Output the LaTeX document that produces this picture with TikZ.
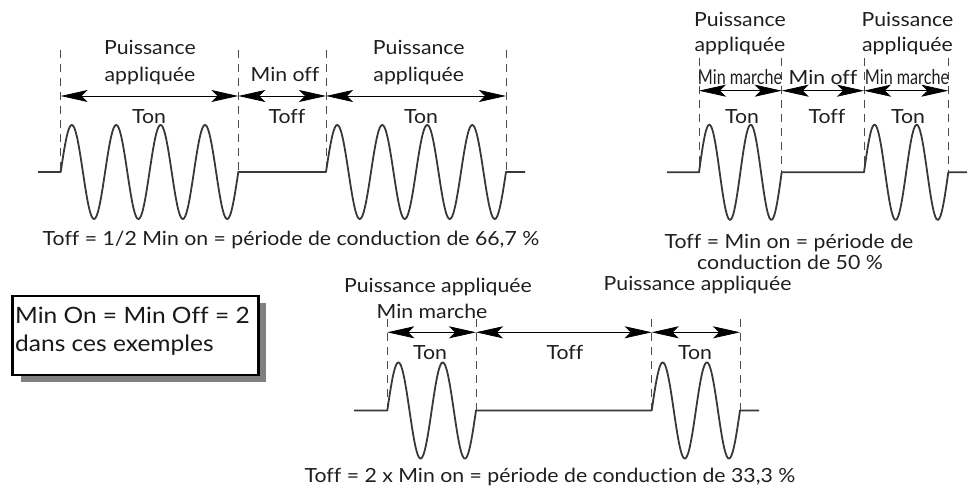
\documentclass[tikz,border=0pt]{standalone}
\usepackage{fontspec}
\usepackage{graphicx}
\setmainfont{Lato}[Ligatures=NoCommon, FakeStretch=1.09]
\usetikzlibrary{arrows.meta,shadows}
\begin{document}
\begin{tikzpicture}[x=1pt,y=-1pt,
  wave/.style={line width=1.8pt, color=black!78, line join=round},
  guide/.style={line width=0.9pt, color=black!70, dash pattern=on 8pt off 6pt},
  dim/.style={line width=0.8pt, {Stealth[length=27pt,width=12pt,inset=6pt]}-{Stealth[length=27pt,width=12pt,inset=6pt]}},
  lbl/.style={font=\fontsize{19.5}{23}\selectfont, inner sep=0pt, anchor=base, text=black!88},
  boxtxt/.style={font=\fontsize{22.5}{26}\selectfont, inner sep=0pt, anchor=base west, text=black!90},
  notebox/.style={draw=black, line width=2.6pt, fill=white, inner sep=0pt, anchor=north west,
    drop shadow={shadow xshift=8pt, shadow yshift=-7pt, fill=black!50, opacity=1}}
]
\useasboundingbox (0,0) rectangle (970,497);

% ---------------- top-left diagram ----------------
\foreach \n/\x in {1/60.7,2/238.3,3/326,4/506}{
  \coordinate (tlt\n) at (\x,50);
  \coordinate (tlb\n) at (\x,172);
  \coordinate (tla\n) at (\x,96);
  \draw[guide] (tlt\n) -- (tlb\n);
}
\draw[wave] (38,172) -- (tlb1) -- plot[domain=0:1440,samples=240] ({60.7+\x/360*44.4},{172-47*sin(\x)})
  -- (tlb2) -- (tlb3) -- plot[domain=0:1440,samples=240] ({326+\x/360*45},{172-47*sin(\x)})
  -- (tlb4) -- (525,172);
\draw[dim] (tla1) -- (tla2);
\draw[dim] (tla2) -- (tla3);
\draw[dim] (tla3) -- (tla4);
\node[lbl] (tlp1) at (150,55) {Puissance};
\node[lbl] (tlq1) at (150,81.7) {appliquée};
\node[lbl] (tlo1) at (149,123.3) {Ton};
\node[lbl] (tlm) at (285,81.7) {Min off};
\node[lbl] (tlf) at (287,123.3) {Toff};
\node[lbl] (tlp2) at (418.8,55) {Puissance};
\node[lbl] (tlq2) at (418.8,81.7) {appliquée};
\node[lbl] (tlo2) at (421,123.3) {Ton};
\node[lbl] (tlcap) at (291,246) {Toff = 1/2 Min on = période de conduction de 66,7 \%};

% ---------------- top-right diagram ----------------
\foreach \n/\x in {1/699,2/781.7,3/864,4/948.3}{
  \coordinate (trt\n) at (\x,58);
  \coordinate (trb\n) at (\x,172.3);
  \coordinate (tra\n) at (\x,90.7);
  \draw[guide] (trt\n) -- (trb\n);
}
\draw[wave] (667,172.3) -- (trb1) -- plot[domain=0:720,samples=160] ({699+\x/360*41.35},{172.3-47.5*sin(\x)})
  -- (trb2) -- (trb3) -- plot[domain=0:720,samples=160] ({864+\x/360*42.15},{172.3-47.5*sin(\x)})
  -- (trb4) -- (967,172.3);
\draw[dim] (tra1) -- (tra2);
\draw[dim] (tra2) -- (tra3);
\draw[dim] (tra3) -- (tra4);
\node[lbl] (trp1) at (740,26.7) {Puissance};
\node[lbl] (trq1) at (740,51.7) {appliquée};
\node[lbl] (trm1) at (740,85) {\scalebox{0.76}[1.05]{Min marche}};
\node[lbl] (tro1) at (742,123.3) {Ton};
\node[lbl] (trm) at (823,85) {Min off};
\node[lbl] (trf) at (827,123.3) {Toff};
\node[lbl] (trp2) at (907.5,26.7) {Puissance};
\node[lbl] (trq2) at (907.5,51.7) {appliquée};
\node[lbl] (trm2) at (907,85) {\scalebox{0.76}[1.05]{Min marche}};
\node[lbl] (tro2) at (908,123.3) {Ton};
\node[lbl] (trcap1) at (789,248.3) {Toff = Min on = période de};
\node[lbl] (trcap2) at (790,270) {conduction de 50 \%};

% ---------------- bottom diagram ----------------
\foreach \n/\x in {1/387.3,2/476,3/651.7,4/740}{
  \coordinate (bt\n) at (\x,319);
  \coordinate (bb\n) at (\x,410.5);
  \coordinate (ba\n) at (\x,332.3);
  \draw[guide] (bt\n) -- (bb\n);
}
\draw[wave] (354,410.5) -- (bb1) -- plot[domain=0:720,samples=160] ({387.3+\x/360*44.35},{410.5-48*sin(\x)})
  -- (bb2) -- (bb3) -- plot[domain=0:720,samples=160] ({651.7+\x/360*44.15},{410.5-48*sin(\x)})
  -- (bb4) -- (759,410.5);
\draw[dim] (ba1) -- (ba2);
\draw[dim] (ba2) -- (ba3);
\draw[dim] (ba3) -- (ba4);
\node[lbl] (bp1) at (438,292.7) {Puissance appliquée};
\node[lbl] (bm1) at (432,318.7) {Min marche};
\node[lbl] (bo1) at (430,359.3) {Ton};
\node[lbl] (bf) at (565,359.3) {Toff};
\node[lbl] (bo2) at (695,359.3) {Ton};
\node[lbl] (bp2) at (697.6,290.3) {Puissance appliquée};
\node[lbl] (bcap) at (550,482) {Toff = 2 x Min on = période de conduction de 33,3 \%};

% ---------------- note box ----------------
\node[notebox, minimum width=245.8pt, minimum height=79.2pt] (note) at (11.3,294.6) {};
\node[boxtxt] (note1) at (15,323.3) {Min On = Min Off = 2};
\node[boxtxt] (note2) at (15,351.7) {dans ces exemples};
\end{tikzpicture}
\end{document}
